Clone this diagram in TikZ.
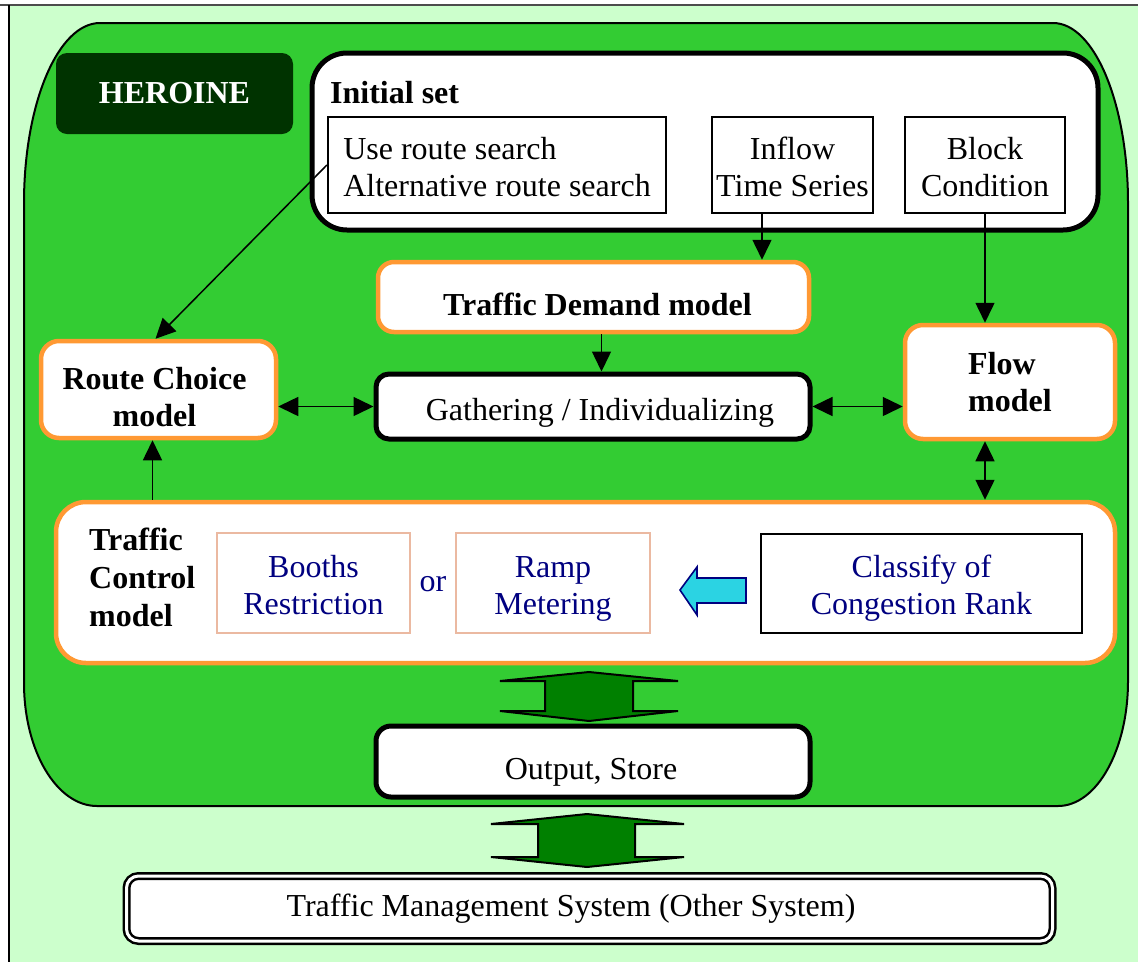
\documentclass[tikz,border=0pt]{standalone}
\usepackage{fontspec}
\setmainfont{Liberation Serif}
\usetikzlibrary{arrows.meta,calc}
\definecolor{lightgr}{HTML}{CCFFCC}
\definecolor{brightgr}{HTML}{33CC33}
\definecolor{darkgr}{HTML}{003300}
\definecolor{arrgr}{HTML}{008000}
\definecolor{orng}{HTML}{FF9933}
\definecolor{navyc}{HTML}{000080}
\definecolor{salmonc}{HTML}{EBB9A1}
\definecolor{cyanc}{HTML}{2BD3E3}
\tikzset{
  txt/.style={font=\fontsize{32}{37}\selectfont, inner sep=0pt, align=center},
  btxt/.style={txt, font=\fontsize{32}{37}\selectfont\bfseries},
  bx/.style={txt, rectangle},
  thinbox/.style={bx, draw=black, line width=2.2pt, fill=white},
  thickbox/.style={bx, draw=black, line width=5pt, fill=white},
  orangebox/.style={bx, draw=orng, line width=4.5pt, fill=white, font=\fontsize{32}{37}\selectfont\bfseries},
  navybox/.style={bx, line width=1.6pt, fill=white, text=navyc},
  arr/.style={line width=1.5pt, -{Triangle[length=20pt,width=19pt]}},
  darr/.style={line width=1.5pt, {Triangle[length=20pt,width=19pt]}-{Triangle[length=20pt,width=19pt]}},
  dblarrow/.style={fill=arrgr, draw=black, line width=2pt, line join=miter},
}
\begin{document}
\begin{tikzpicture}[x=1pt,y=1pt]
\useasboundingbox (0,0) rectangle (1138,-962);
% background
\fill[lightgr] (9,-5) rectangle (1138,-962);
\draw[black!70, line width=1.5pt] (0,-5) -- (1138,-5);
\draw[black, line width=2pt] (9,-5) -- (9,-962);
% big green rounded box
\draw[fill=brightgr, line width=2pt]
  (100,-23) -- (1053,-23)
  arc[start angle=90, end angle=0, x radius=75, y radius=180]
  -- (1128,-681)
  arc[start angle=0, end angle=-90, x radius=70, y radius=125]
  -- (97,-806)
  arc[start angle=270, end angle=180, x radius=73, y radius=123]
  -- (24,-203)
  arc[start angle=180, end angle=90, x radius=76, y radius=180]
  -- cycle;
% HEROINE
\node[bx, fill=darkgr, rounded corners=11pt, minimum width=237pt, minimum height=81pt, text=white, font=\fontsize{32}{37}\selectfont\bfseries] (heroine) at (174.5,-93.5) {\raisebox{-3pt}{HEROINE}};
% Initial set
\node[thickbox, rounded corners=35pt, minimum width=786pt, minimum height=177pt] (initset) at (705,-141.5) {};
\node[btxt, anchor=west] (initlabel) at (330,-93) {Initial set};
\node[thinbox, align=left, minimum width=338pt, minimum height=96pt] (useroute) at (497,-165) {};
\node[txt, align=left] (useroute-t) at ([yshift=-2pt]useroute.center) {Use route search\\Alternative route search};
\node[thinbox, minimum width=161pt, minimum height=96pt] (inflow) at (792.5,-165) {};
\node[txt] (inflow-t) at ([yshift=-2pt]inflow.center) {Inflow\\Time Series};
\node[thinbox, minimum width=160pt, minimum height=96pt] (block) at (985,-165) {};
\node[txt] (block-t) at ([yshift=-2pt]block.center) {Block\\Condition};
% models
\node[orangebox, rounded corners=16pt, minimum width=431pt, minimum height=70pt] (demand) at (593.5,-297) {};
\node[btxt] (demand-t) at ([xshift=4pt,yshift=-7pt]demand.center) {Traffic Demand model};
\node[orangebox, rounded corners=18pt, minimum width=235pt, minimum height=97pt] (route) at (158.5,-389.5) {};
\node[btxt] (route-t) at ([xshift=-4pt,yshift=-8pt]route.center) {Route Choice\\model};
\node[thickbox, rounded corners=13pt, minimum width=434pt, minimum height=65pt] (gather) at (593,-406.5) {};
\node[txt] (gather-t) at ([xshift=7pt,yshift=-6pt]gather.center) {Gathering / Individualizing};
\node[orangebox, rounded corners=18pt, minimum width=210pt, minimum height=114pt] (flow) at (1010,-382) {};
\node[btxt, align=left] (flow-t) at (flow.center) {Flow\\model};
% traffic control
\node[orangebox, rounded corners=30pt, minimum width=1059pt, minimum height=161pt] (control) at (585.5,-582.5) {};
\node[btxt, font=\fontsize{32}{38}\selectfont\bfseries, align=left, anchor=west] (ctrllabel) at (89,-577) {Traffic\\Control\\model};
\node[navybox, draw=salmonc, minimum width=193pt, minimum height=100pt] (booths) at (313.5,-583) {};
\node[txt, text=navyc] (booths-t) at ([yshift=-2pt]booths.center) {Booths\\Restriction};
\node[txt, text=navyc] (ortext) at (433,-584) {or};
\node[navybox, draw=salmonc, minimum width=194pt, minimum height=100pt] (ramp) at (553,-583) {};
\node[txt, text=navyc] (ramp-t) at ([yshift=-6pt]ramp.center) {Ramp\\Metering};
\node[navybox, draw=black, minimum width=321pt, minimum height=99pt] (classify) at (921.5,-583.5) {};
\node[txt, text=navyc] (classify-t) at ([yshift=-5pt]classify.center) {Classify of\\Congestion Rank};
% cyan arrow
\draw[fill=cyanc, draw=navyc, line width=1.6pt, line join=miter]
  (680,-590) -- (697,-567) -- (697,-578) -- (746,-578) -- (746,-603) -- (697,-603) -- (697,-615) -- cycle;
% output
\node[thickbox, rounded corners=15pt, minimum width=434pt, minimum height=71pt] (output) at (593,-761.5) {};
\node[txt] (output-t) at ([xshift=-2pt,yshift=-11pt]output.center) {Output, Store};
% TMS
\node[rectangle, draw=black, line width=2.5pt, double=white, double distance=3pt, fill=white, rounded corners=12pt, minimum width=926pt, minimum height=65pt, inner sep=0pt] (tms) at (589.5,-908.5) {};
\node[txt] (tms-t) at (571,-909) {Traffic Management System (Other System)};
% double arrows
\draw[dblarrow] (500,-681) -- (589,-672) -- (678,-681) -- (633,-681) -- (633,-711) -- (678,-711) -- (589,-721) -- (500,-711) -- (545,-711) -- (545,-681) -- cycle;
\draw[dblarrow] (491,-824) -- (587,-814) -- (684,-824) -- (635,-824) -- (635,-857) -- (684,-857) -- (587,-867) -- (491,-857) -- (538,-857) -- (538,-824) -- cycle;
% connectors
\draw[arr] (useroute.west) -- ([xshift=-3pt]route.north);
\draw[arr] ([xshift=-30.5pt]inflow.south) -- ([xshift=-30.5pt]inflow.south |- demand.north);
\draw[arr] (block.south) -- (block.south |- flow.north);
\draw[arr] ([xshift=8pt]demand.south) -- ([xshift=8pt]demand.south |- gather.north);
\draw[darr] (gather.west -| route.east) -- (gather.west);
\draw[darr] (gather.east) -- (gather.east -| flow.west);
\draw[darr] (block.south |- flow.south) -- (block.south |- control.north);
\draw[arr] ([xshift=-6pt]route.south |- control.north) -- ([xshift=-6pt]route.south);
\end{tikzpicture}
\end{document}
